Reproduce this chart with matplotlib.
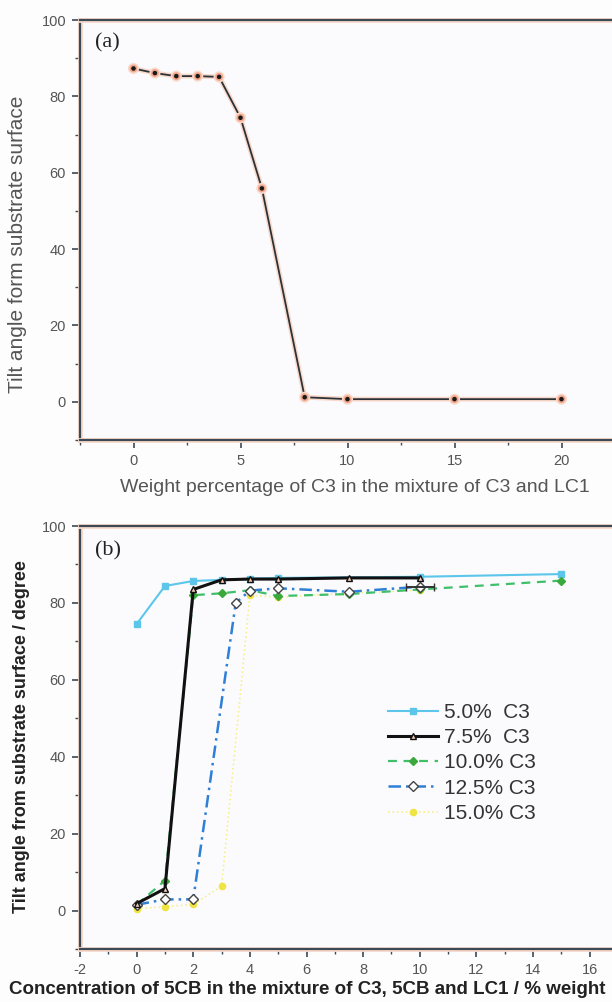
import numpy as np
import matplotlib.pyplot as plt
import matplotlib.patheffects as pe
from matplotlib.ticker import MultipleLocator

# panel (a): tilt angle vs C3 weight percentage
c3_wt = [0, 1, 2, 3, 4, 5, 6, 8, 10, 15, 20]
tilt_a = [87.3, 86.1, 85.3, 85.3, 85.1, 74.4, 55.9, 1.2, 0.7, 0.7, 0.7]

# panel (b): tilt angle vs 5CB concentration, one series per C3 content
x_50 = [0, 1, 2, 3, 4, 5, 10, 15]
y_50 = [74.5, 84.4, 85.7, 86.0, 86.3, 86.5, 86.8, 87.5]
x_75 = [0, 1, 2, 3, 4, 5, 7.5, 10]
y_75 = [1.8, 5.7, 83.5, 86.0, 86.2, 86.2, 86.5, 86.5]
x_100 = [0, 1, 2, 3, 4, 5, 7.5, 10, 15]
y_100 = [1.5, 7.8, 82.0, 82.5, 83.3, 81.8, 82.3, 83.5, 85.8]
x_125 = [0, 1, 2, 3.5, 4, 5, 7.5, 10]
y_125 = [1.5, 2.9, 2.9, 80.0, 83.2, 83.8, 82.9, 84.2]
x_150 = [0, 1, 2, 3, 4, 5, 7.5, 10]
y_150 = [0.5, 1.0, 1.6, 6.3, 82.0, 81.5, 82.5, 83.3]

labels_b = ['5.0%  C3', '7.5%  C3', '10.0% C3', '12.5% C3', '15.0% C3']

spine_col = '#3c4a55'
tick_col = '#555555'
halo = [pe.withStroke(linewidth=3.5, foreground='#f9d9cc')]

plt.rcParams['font.family'] = ['Liberation Sans', 'DejaVu Sans']
plt.rcParams['axes.unicode_minus'] = False
fig = plt.figure(figsize=(6.12, 10.02), dpi=100, facecolor='#fdfdfd')


def style_axes(ax):
    ax.set_facecolor('#fbfbfd')
    for s in ['left', 'top', 'bottom', 'right']:
        ax.spines[s].set_color(spine_col)
        ax.spines[s].set_linewidth(1.6)
        ax.spines[s].set_path_effects(halo)
    ax.tick_params(which='major', direction='out', length=6, width=1.2,
                   color=spine_col, labelcolor=tick_col, labelsize=10.5, pad=4)
    ax.tick_params(which='minor', direction='out', length=3.5, width=1.0,
                   color=spine_col)


# ---- (a) ----
ax1 = fig.add_axes([80 / 612, 562 / 1002, 535 / 612, 420 / 1002])
style_axes(ax1)
ax1.plot(c3_wt, tilt_a, color='#2b3338', lw=1.3, marker='o', ms=4.5,
         mfc='#1a1a1a', mec='#f3a58a', mew=1.2, path_effects=halo)
ax1.set_xlim(-2.5, 22.5)
ax1.set_ylim(-10, 100)
ax1.xaxis.set_major_locator(MultipleLocator(5))
ax1.xaxis.set_minor_locator(MultipleLocator(2.5))
ax1.yaxis.set_minor_locator(MultipleLocator(10))
ax1.set_yticks([0, 20, 40, 60, 80, 100])
ax1.text(0.028, 0.968, '(a)', transform=ax1.transAxes, fontsize=16,
         family='Liberation Serif', color='#222222', va='top')
fig.text(18 / 612, 1 - 244 / 1002, 'Tilt angle form substrate surface',
         rotation=90, ha='center', va='center', fontsize=15, color='#555555')
fig.text(355 / 612, 1 - 487 / 1002,
         'Weight percentage of C3 in the mixture of C3 and LC1',
         ha='center', va='center', fontsize=14, color='#555555')

# ---- (b) ----
ax2 = fig.add_axes([80 / 612, 53 / 1002, 538 / 612, 423 / 1002])
style_axes(ax2)
ax2.plot(x_50, y_50, color='#5cc6ea', lw=1.5, marker='s', ms=4,
         mfc='#5cc6ea', mec='#5cc6ea', label=labels_b[0])
ax2.plot(x_150, y_150, color='#f6f08a', lw=1.2, ls=':', marker='o', ms=4.5,
         mfc='#efe443', mec='#efe443', label=labels_b[4])
ax2.plot(x_100, y_100, color='#3fbf6a', lw=1.6, ls=(0, (4, 3)), marker='D',
         ms=4, mfc='#3aa83a', mec='#3aa83a', label=labels_b[2])
ax2.plot(x_125, y_125, color='#2f7fd6', lw=1.8, ls=(0, (5, 2, 1, 2)),
         marker='D', ms=5, mfc='white', mec='#444444', mew=1.0,
         label=labels_b[3])
ax2.errorbar([x_125[-1]], [y_125[-1]], xerr=0.5, fmt='none',
             ecolor='#333333', elinewidth=1.4, capsize=3)
ax2.plot(x_75, y_75, color='#111111', lw=2.2, marker='^', ms=5,
         mfc='#f2c9b5', mec='#111111', mew=1.0, label=labels_b[1])
ax2.set_xlim(-2, 17)
ax2.set_ylim(-10, 100)
ax2.set_xticks(np.arange(-2, 17, 2))
ax2.xaxis.set_minor_locator(MultipleLocator(1))
ax2.yaxis.set_minor_locator(MultipleLocator(10))
ax2.set_yticks([0, 20, 40, 60, 80, 100])
ax2.text(0.028, 0.965, '(b)', transform=ax2.transAxes, fontsize=16,
         family='Liberation Serif', color='#222222', va='top')

h, l = ax2.get_legend_handles_labels()
hmap = dict(zip(l, h))
ax2.legend([hmap[s] for s in labels_b], labels_b, loc='upper left',
           bbox_to_anchor=(0.572, 0.582), frameon=False, fontsize=15,
           handlelength=2.4, handletextpad=0.3, labelspacing=0.3,
           borderpad=0, borderaxespad=0, labelcolor='#333333')

fig.text(22 / 612, 1 - 737 / 1002,
         'Tilt angle from substrate surface / degree', rotation=90,
         ha='center', va='center', fontsize=13, fontweight='bold',
         color='#222222')
fig.text(307 / 612, 1 - 990 / 1002,
         'Concentration of 5CB in the mixture of C3, 5CB and LC1 / % weight',
         ha='center', va='center', fontsize=13.5, fontweight='bold',
         color='#222222')

fig.savefig('out.png', dpi=100, facecolor=fig.get_facecolor())
